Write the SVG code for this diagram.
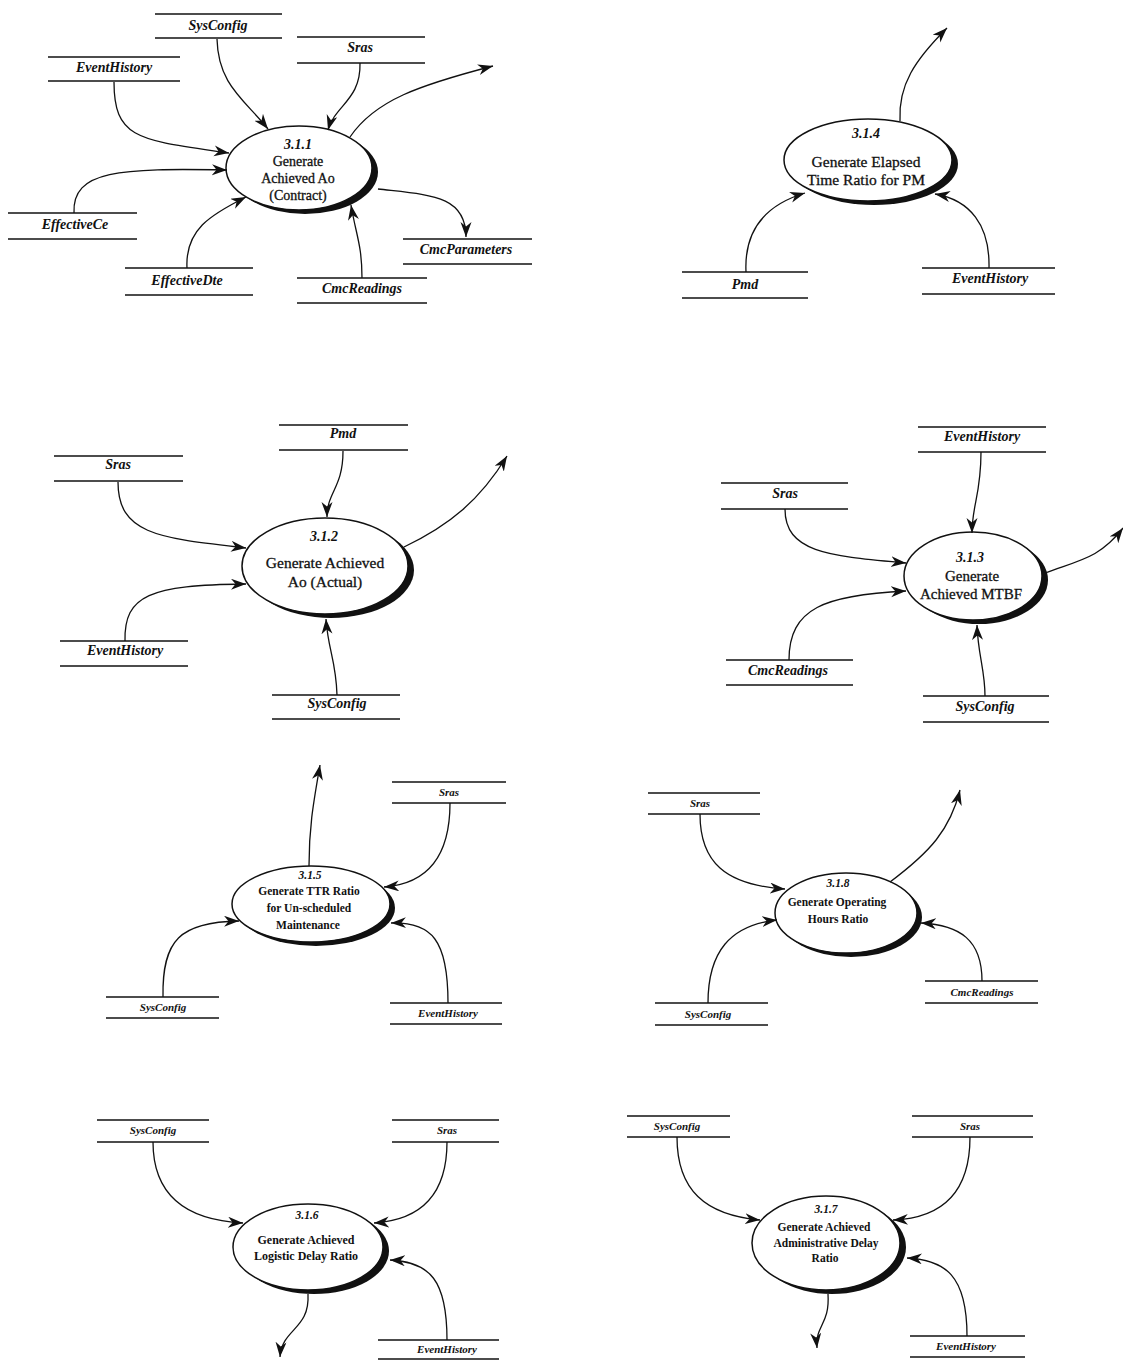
<svg xmlns="http://www.w3.org/2000/svg" width="1123" height="1361" viewBox="0 0 1123 1361">
  <style>
    .bg { fill: #ffffff; }
    .store line { stroke: #111; stroke-width: 1.4; }
    .slabel { font-family: "Liberation Serif", "Times New Roman", serif; font-weight: bold; font-style: italic; font-size: 14px; fill: #111; text-anchor: middle; }
    .small .slabel { font-size: 11px; }
    .shadow { fill: #111; }
    .bubble { fill: #fff; stroke: #111; stroke-width: 1.5; }
    .pnum { font-family: "Liberation Serif", "Times New Roman", serif; font-weight: bold; font-style: italic; font-size: 14px; fill: #111; text-anchor: middle; }
    .pname { font-family: "Liberation Serif", "Times New Roman", serif; font-size: 14px; fill: #111; stroke: #111; stroke-width: 0.3; text-anchor: middle; }
    .small .pnum { font-size: 11.5px; }
    .small .pname { font-size: 11.5px; font-weight: bold; stroke: none; }
    .flow { fill: none; stroke: #111; stroke-width: 1.3; marker-end: url(#arrow); }
  </style>
  <defs>
    <marker id="arrow" markerUnits="userSpaceOnUse" markerWidth="16" markerHeight="12" refX="15" refY="5.5" orient="auto" viewBox="0 0 16 12">
      <path d="M0,0 L15,5.5 L0,11 L4.5,5.5 z" fill="#111"/>
    </marker>
  </defs>
  <rect class="bg" x="0" y="0" width="1123" height="1361"/>

  <!-- ===== Process 3.1.1 ===== -->
  <g id="p311">
    <ellipse class="shadow" cx="305" cy="172" rx="73" ry="42"/>
    <ellipse class="bubble" cx="299" cy="168" rx="73" ry="42"/>
    <text class="pnum" x="298" y="149">3.1.1</text>
    <text class="pname" x="298" y="166">Generate</text>
    <text class="pname" x="298" y="183">Achieved Ao</text>
    <text class="pname" x="298" y="200">(Contract)</text>
  </g>
  <g id="s311-sysconfig" class="store"><line x1="155" y1="14" x2="282" y2="14"/><line x1="155" y1="38" x2="282" y2="38"/><text class="slabel" x="218" y="30">SysConfig</text></g>
  <g id="s311-sras" class="store"><line x1="297" y1="37" x2="425" y2="37"/><line x1="297" y1="63" x2="425" y2="63"/><text class="slabel" x="360" y="52">Sras</text></g>
  <g id="s311-eventhistory" class="store"><line x1="48" y1="57" x2="180" y2="57"/><line x1="48" y1="81" x2="180" y2="81"/><text class="slabel" x="114" y="72">EventHistory</text></g>
  <g id="s311-effectivece" class="store"><line x1="8" y1="213" x2="137" y2="213"/><line x1="8" y1="239" x2="137" y2="239"/><text class="slabel" x="75" y="229">EffectiveCe</text></g>
  <g id="s311-effectivedte" class="store"><line x1="125" y1="268" x2="253" y2="268"/><line x1="125" y1="295" x2="253" y2="295"/><text class="slabel" x="187" y="285">EffectiveDte</text></g>
  <g id="s311-cmcreadings" class="store"><line x1="297" y1="278" x2="427" y2="278"/><line x1="297" y1="303" x2="427" y2="303"/><text class="slabel" x="362" y="293">CmcReadings</text></g>
  <g id="s311-cmcparameters" class="store"><line x1="403" y1="239" x2="532" y2="239"/><line x1="403" y1="264" x2="532" y2="264"/><text class="slabel" x="466" y="254">CmcParameters</text></g>

  <!-- ===== Process 3.1.4 ===== -->
  <g id="p314">
    <ellipse class="shadow" cx="874" cy="164" rx="84" ry="41"/>
    <ellipse class="bubble" cx="868" cy="160" rx="84" ry="41"/>
    <text class="pnum" x="866" y="138">3.1.4</text>
    <text class="pname" x="866" y="167" style="font-size:15.5px">Generate Elapsed</text>
    <text class="pname" x="866" y="185" style="font-size:15.5px">Time Ratio for PM</text>
  </g>
  <g id="s314-pmd" class="store"><line x1="682" y1="272" x2="808" y2="272"/><line x1="682" y1="298" x2="808" y2="298"/><text class="slabel" x="745" y="289">Pmd</text></g>
  <g id="s314-eventhistory" class="store"><line x1="922" y1="268" x2="1055" y2="268"/><line x1="922" y1="294" x2="1055" y2="294"/><text class="slabel" x="990" y="283">EventHistory</text></g>

  <!-- ===== Process 3.1.2 ===== -->
  <g id="p312">
    <ellipse class="shadow" cx="331" cy="570" rx="83" ry="48"/>
    <ellipse class="bubble" cx="325" cy="566" rx="83" ry="48"/>
    <text class="pnum" x="324" y="541">3.1.2</text>
    <text class="pname" x="325" y="568" style="font-size:15.5px">Generate Achieved</text>
    <text class="pname" x="325" y="587" style="font-size:15.5px">Ao (Actual)</text>
  </g>
  <g id="s312-pmd" class="store"><line x1="279" y1="425" x2="408" y2="425"/><line x1="279" y1="450" x2="408" y2="450"/><text class="slabel" x="343" y="438">Pmd</text></g>
  <g id="s312-sras" class="store"><line x1="54" y1="456" x2="183" y2="456"/><line x1="54" y1="481" x2="183" y2="481"/><text class="slabel" x="118" y="469">Sras</text></g>
  <g id="s312-eventhistory" class="store"><line x1="60" y1="641" x2="188" y2="641"/><line x1="60" y1="666" x2="188" y2="666"/><text class="slabel" x="125" y="655">EventHistory</text></g>
  <g id="s312-sysconfig" class="store"><line x1="272" y1="695" x2="400" y2="695"/><line x1="272" y1="719" x2="400" y2="719"/><text class="slabel" x="337" y="708">SysConfig</text></g>

  <!-- ===== Process 3.1.3 ===== -->
  <g id="p313">
    <ellipse class="shadow" cx="979" cy="580" rx="69" ry="44"/>
    <ellipse class="bubble" cx="973" cy="576" rx="69" ry="44"/>
    <text class="pnum" x="970" y="562">3.1.3</text>
    <text class="pname" x="972" y="581" style="font-size:15px">Generate</text>
    <text class="pname" x="971" y="599" style="font-size:15px">Achieved MTBF</text>
  </g>
  <g id="s313-eventhistory" class="store"><line x1="918" y1="427" x2="1046" y2="427"/><line x1="918" y1="452" x2="1046" y2="452"/><text class="slabel" x="982" y="441">EventHistory</text></g>
  <g id="s313-sras" class="store"><line x1="721" y1="483" x2="848" y2="483"/><line x1="721" y1="509" x2="848" y2="509"/><text class="slabel" x="785" y="498">Sras</text></g>
  <g id="s313-cmcreadings" class="store"><line x1="726" y1="660" x2="853" y2="660"/><line x1="726" y1="685" x2="853" y2="685"/><text class="slabel" x="788" y="675">CmcReadings</text></g>
  <g id="s313-sysconfig" class="store"><line x1="923" y1="696" x2="1049" y2="696"/><line x1="923" y1="722" x2="1049" y2="722"/><text class="slabel" x="985" y="711">SysConfig</text></g>

  <!-- ===== Process 3.1.5 ===== -->
  <g id="p315" class="small">
    <ellipse class="shadow" cx="316" cy="908" rx="79" ry="38"/>
    <ellipse class="bubble" cx="311" cy="904" rx="79" ry="38"/>
    <text class="pnum" x="310" y="879">3.1.5</text>
    <text class="pname" x="309" y="895">Generate TTR Ratio</text>
    <text class="pname" x="309" y="912">for Un-scheduled</text>
    <text class="pname" x="308" y="929">Maintenance</text>
  </g>
  <g id="s315-sras" class="store small"><line x1="392" y1="782" x2="506" y2="782"/><line x1="392" y1="803" x2="506" y2="803"/><text class="slabel" x="449" y="796">Sras</text></g>
  <g id="s315-sysconfig" class="store small"><line x1="106" y1="997" x2="219" y2="997"/><line x1="106" y1="1018" x2="219" y2="1018"/><text class="slabel" x="163" y="1011">SysConfig</text></g>
  <g id="s315-eventhistory" class="store small"><line x1="390" y1="1003" x2="502" y2="1003"/><line x1="390" y1="1024" x2="502" y2="1024"/><text class="slabel" x="448" y="1017">EventHistory</text></g>

  <!-- ===== Process 3.1.8 ===== -->
  <g id="p318" class="small">
    <ellipse class="shadow" cx="851" cy="917" rx="71" ry="40"/>
    <ellipse class="bubble" cx="846" cy="913" rx="71" ry="40"/>
    <text class="pnum" x="838" y="887">3.1.8</text>
    <text class="pname" x="837" y="906">Generate Operating</text>
    <text class="pname" x="838" y="923">Hours Ratio</text>
  </g>
  <g id="s318-sras" class="store small"><line x1="648" y1="793" x2="760" y2="793"/><line x1="648" y1="814" x2="760" y2="814"/><text class="slabel" x="700" y="807">Sras</text></g>
  <g id="s318-sysconfig" class="store small"><line x1="655" y1="1003" x2="768" y2="1003"/><line x1="655" y1="1025" x2="768" y2="1025"/><text class="slabel" x="708" y="1018">SysConfig</text></g>
  <g id="s318-cmcreadings" class="store small"><line x1="925" y1="981" x2="1038" y2="981"/><line x1="925" y1="1003" x2="1038" y2="1003"/><text class="slabel" x="982" y="996">CmcReadings</text></g>

  <!-- ===== Process 3.1.6 ===== -->
  <g id="p316" class="small">
    <ellipse class="shadow" cx="314" cy="1251" rx="75" ry="43"/>
    <ellipse class="bubble" cx="308" cy="1247" rx="75" ry="43"/>
    <text class="pnum" x="307" y="1219">3.1.6</text>
    <text class="pname" x="306" y="1244" style="font-size:12px">Generate Achieved</text>
    <text class="pname" x="306" y="1260" style="font-size:12px">Logistic Delay Ratio</text>
  </g>
  <g id="s316-sysconfig" class="store small"><line x1="97" y1="1120" x2="209" y2="1120"/><line x1="97" y1="1142" x2="209" y2="1142"/><text class="slabel" x="153" y="1134">SysConfig</text></g>
  <g id="s316-sras" class="store small"><line x1="392" y1="1120" x2="499" y2="1120"/><line x1="392" y1="1142" x2="499" y2="1142"/><text class="slabel" x="447" y="1134">Sras</text></g>
  <g id="s316-eventhistory" class="store small"><line x1="378" y1="1340" x2="499" y2="1340"/><line x1="378" y1="1359" x2="499" y2="1359"/><text class="slabel" x="447" y="1353">EventHistory</text></g>

  <!-- ===== Process 3.1.7 ===== -->
  <g id="p317" class="small">
    <ellipse class="shadow" cx="832" cy="1247" rx="74" ry="47"/>
    <ellipse class="bubble" cx="826" cy="1243" rx="74" ry="47"/>
    <text class="pnum" x="826" y="1213">3.1.7</text>
    <text class="pname" x="824" y="1231">Generate Achieved</text>
    <text class="pname" x="826" y="1247">Administrative Delay</text>
    <text class="pname" x="825" y="1262">Ratio</text>
  </g>
  <g id="s317-sysconfig" class="store small"><line x1="627" y1="1116" x2="730" y2="1116"/><line x1="627" y1="1137" x2="730" y2="1137"/><text class="slabel" x="677" y="1130">SysConfig</text></g>
  <g id="s317-sras" class="store small"><line x1="912" y1="1116" x2="1033" y2="1116"/><line x1="912" y1="1137" x2="1033" y2="1137"/><text class="slabel" x="970" y="1130">Sras</text></g>
  <g id="s317-eventhistory" class="store small"><line x1="910" y1="1336" x2="1025" y2="1336"/><line x1="910" y1="1357" x2="1025" y2="1357"/><text class="slabel" x="966" y="1350">EventHistory</text></g>

  <!-- ===== Data flows ===== -->
  <g id="flows">
    <!-- 3.1.1 -->
    <path class="flow" d="M217,39 C218,85 245,100 268,129"/>
    <path class="flow" d="M360,63 C361,100 335,105 328,130"/>
    <path class="flow" d="M114,82 C114,140 140,140 229,153"/>
    <path class="flow" d="M74,213 C72,170 120,168 227,170"/>
    <path class="flow" d="M187,268 C185,230 210,215 246,197"/>
    <path class="flow" d="M362,278 C362,245 356,235 351,205"/>
    <path class="flow" d="M378,189 C430,195 466,195 466,237"/>
    <path class="flow" d="M350,137 C375,100 420,85 493,66"/>
    <!-- 3.1.4 -->
    <path class="flow" d="M900,121 C898,85 915,60 947,28"/>
    <path class="flow" d="M746,272 C744,230 765,205 805,193"/>
    <path class="flow" d="M989,268 C990,225 970,200 935,194"/>
    <!-- 3.1.2 -->
    <path class="flow" d="M343,451 C343,488 327,492 327,517"/>
    <path class="flow" d="M118,482 C118,535 160,538 246,548"/>
    <path class="flow" d="M125,641 C124,595 150,585 246,584"/>
    <path class="flow" d="M337,695 C336,660 328,650 326,619"/>
    <path class="flow" d="M404,547 C450,525 480,500 507,456"/>
    <!-- 3.1.3 -->
    <path class="flow" d="M981,452 C981,495 972,505 972,533"/>
    <path class="flow" d="M785,509 C785,553 830,556 906,563"/>
    <path class="flow" d="M789,660 C789,608 825,595 906,591"/>
    <path class="flow" d="M985,696 C985,670 978,655 977,625"/>
    <path class="flow" d="M1045,573 C1080,560 1100,558 1123,528"/>
    <!-- 3.1.5 -->
    <path class="flow" d="M309,866 C309,825 314,800 320,765"/>
    <path class="flow" d="M450,803 C450,860 425,884 384,887"/>
    <path class="flow" d="M163,997 C162,940 180,922 239,921"/>
    <path class="flow" d="M448,1003 C448,940 432,922 391,923"/>
    <!-- 3.1.8 -->
    <path class="flow" d="M700,814 C700,862 725,885 785,889"/>
    <path class="flow" d="M708,1003 C708,952 730,925 777,920"/>
    <path class="flow" d="M982,981 C982,940 960,925 921,923"/>
    <path class="flow" d="M890,882 C930,852 950,830 960,790"/>
    <!-- 3.1.6 -->
    <path class="flow" d="M153,1142 C153,1195 185,1220 243,1223"/>
    <path class="flow" d="M447,1142 C447,1195 420,1220 374,1223"/>
    <path class="flow" d="M447,1340 C447,1280 430,1262 390,1260"/>
    <path class="flow" d="M308,1294 C310,1330 282,1328 280,1357"/>
    <!-- 3.1.7 -->
    <path class="flow" d="M677,1137 C677,1190 705,1215 760,1220"/>
    <path class="flow" d="M970,1137 C970,1190 945,1218 893,1220"/>
    <path class="flow" d="M967,1336 C967,1275 945,1260 907,1258"/>
    <path class="flow" d="M828,1294 C830,1325 815,1325 817,1348"/>
  </g>
</svg>
